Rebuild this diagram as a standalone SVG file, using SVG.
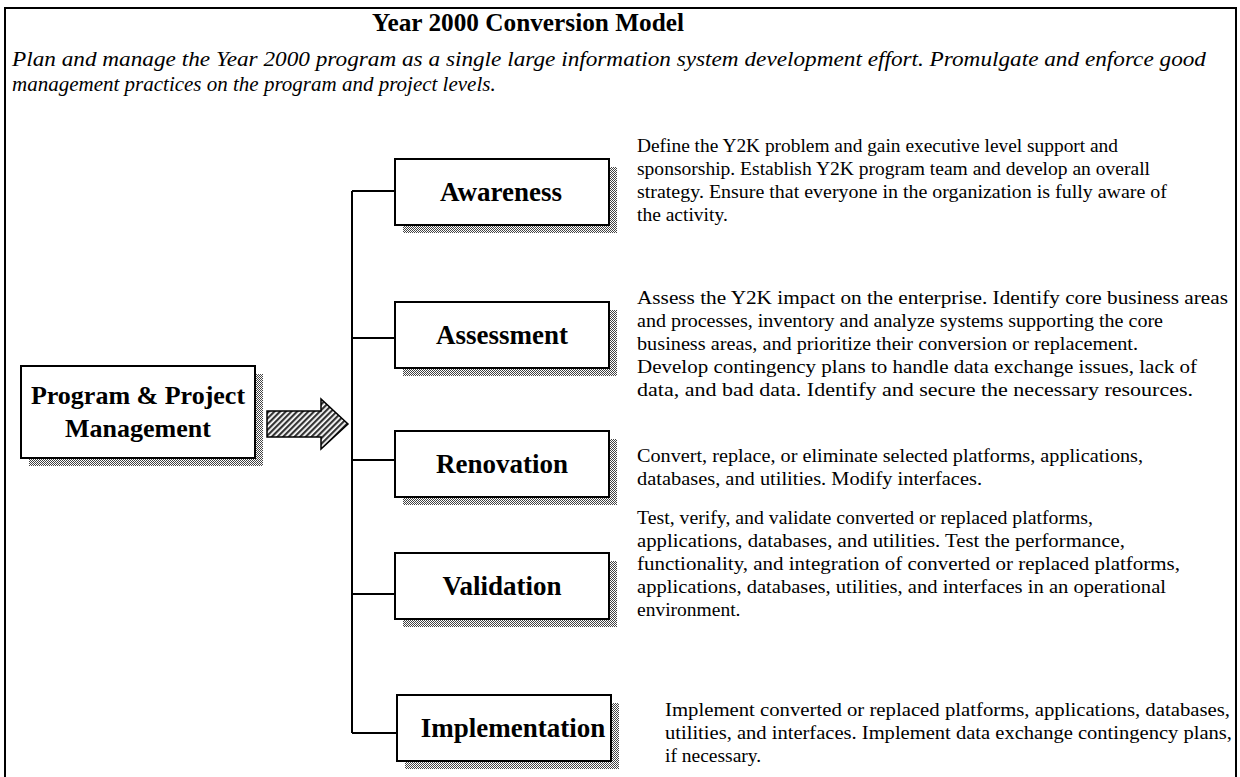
<svg xmlns="http://www.w3.org/2000/svg" width="1240" height="777" viewBox="0 0 1240 777">
<defs>
<pattern id="dots" width="2" height="2" patternUnits="userSpaceOnUse"><rect width="2" height="2" fill="#fff"/><rect width="1" height="1" fill="#444"/><rect x="1" y="1" width="1" height="1" fill="#444"/></pattern>
<pattern id="hatch" width="4" height="4" patternUnits="userSpaceOnUse" patternTransform="rotate(45)"><rect width="4" height="4" fill="#fff"/><rect width="2.2" height="4" fill="#333"/></pattern>
</defs>
<style>
.frame{stroke:#000;stroke-width:2;fill:none}
.box{fill:#fff;stroke:#000;stroke-width:2}
.shadow{fill:url(#dots)}
.conn{stroke:#000;stroke-width:2;fill:none}
.title{font-family:"Liberation Serif","Times New Roman",serif;font-weight:bold;font-size:25px;fill:#000}
.sub{font-family:"Liberation Serif","Times New Roman",serif;font-style:italic;font-size:21px;fill:#000}
.lbl{font-family:"Liberation Serif","Times New Roman",serif;font-weight:bold;font-size:27px;fill:#000;text-anchor:middle}
.ppm{font-size:26px}
.desc{font-family:"Liberation Serif","Times New Roman",serif;font-size:19.5px;fill:#000}
</style>
<rect width="1240" height="777" fill="#fff"/>
<path class="frame" d="M5,777 V8 H1236 V777"/>
<text class="title" x="372" y="31" textLength="312" lengthAdjust="spacingAndGlyphs">Year 2000 Conversion Model</text>
<text class="sub" x="12" y="66" textLength="1194" lengthAdjust="spacingAndGlyphs">Plan and manage the Year 2000 program as a single large information system development effort. Promulgate and enforce good</text>
<text class="sub" x="12" y="91">management practices on the program and project levels.</text>

<g id="connectors">
<path class="conn" d="M352,191 V733"/>
<path class="conn" d="M352,191 H395"/>
<path class="conn" d="M352,338 H395"/>
<path class="conn" d="M352,460 H395"/>
<path class="conn" d="M352,594 H395"/>
<path class="conn" d="M352,733 H397"/>
<path d="M267,411 H321 V399 L348,424 L321,449 V437 H267 Z" fill="url(#hatch)" stroke="#000" stroke-width="1.5"/>
</g>

<g id="ppm">
<rect class="shadow" x="255" y="374" width="8" height="92"/>
<rect class="shadow" x="29" y="458" width="234" height="8"/>
<rect class="box" x="21" y="366" width="234" height="92"/>
<text class="lbl ppm" x="138" y="404">Program &amp; Project</text>
<text class="lbl ppm" x="138" y="437">Management</text>
</g>

<g id="awareness">
<rect class="shadow" x="609" y="167" width="8" height="66"/>
<rect class="shadow" x="403" y="225" width="214" height="8"/>
<rect class="box" x="395" y="159" width="214" height="66"/>
<text class="lbl" x="501" y="201">Awareness</text>
<text class="desc" x="637" y="152" textLength="481" lengthAdjust="spacingAndGlyphs">Define the Y2K problem and gain executive level support and</text>
<text class="desc" x="637" y="175" textLength="513" lengthAdjust="spacingAndGlyphs">sponsorship. Establish Y2K program team and develop an overall</text>
<text class="desc" x="637" y="198" textLength="530" lengthAdjust="spacingAndGlyphs">strategy. Ensure that everyone in the organization is fully aware of</text>
<text class="desc" x="637" y="221">the activity.</text>
</g>

<g id="assessment">
<rect class="shadow" x="609" y="310" width="8" height="66"/>
<rect class="shadow" x="403" y="368" width="214" height="8"/>
<rect class="box" x="395" y="302" width="214" height="66"/>
<text class="lbl" x="502" y="344">Assessment</text>
<text class="desc" x="637" y="304" textLength="591" lengthAdjust="spacingAndGlyphs">Assess the Y2K impact on the enterprise. Identify core business areas</text>
<text class="desc" x="637" y="327" textLength="526" lengthAdjust="spacingAndGlyphs">and processes, inventory and analyze systems supporting the core</text>
<text class="desc" x="637" y="350" textLength="501" lengthAdjust="spacingAndGlyphs">business areas, and prioritize their conversion or replacement.</text>
<text class="desc" x="637" y="373" textLength="560" lengthAdjust="spacingAndGlyphs">Develop contingency plans to handle data exchange issues, lack of</text>
<text class="desc" x="637" y="396" textLength="556" lengthAdjust="spacingAndGlyphs">data, and bad data. Identify and secure the necessary resources.</text>
</g>

<g id="renovation">
<rect class="shadow" x="609" y="439" width="8" height="66"/>
<rect class="shadow" x="403" y="497" width="214" height="8"/>
<rect class="box" x="395" y="431" width="214" height="66"/>
<text class="lbl" x="502" y="473">Renovation</text>
<text class="desc" x="637" y="462" textLength="506" lengthAdjust="spacingAndGlyphs">Convert, replace, or eliminate selected platforms, applications,</text>
<text class="desc" x="637" y="485" textLength="345" lengthAdjust="spacingAndGlyphs">databases, and utilities. Modify interfaces.</text>
</g>

<g id="validation">
<rect class="shadow" x="609" y="561" width="8" height="66"/>
<rect class="shadow" x="403" y="619" width="214" height="8"/>
<rect class="box" x="395" y="553" width="214" height="66"/>
<text class="lbl" x="502" y="595">Validation</text>
<text class="desc" x="637" y="524" textLength="456" lengthAdjust="spacingAndGlyphs">Test, verify, and validate converted or replaced platforms,</text>
<text class="desc" x="637" y="547" textLength="488" lengthAdjust="spacingAndGlyphs">applications, databases, and utilities. Test the performance,</text>
<text class="desc" x="637" y="570" textLength="543" lengthAdjust="spacingAndGlyphs">functionality, and integration of converted or replaced platforms,</text>
<text class="desc" x="637" y="593" textLength="529" lengthAdjust="spacingAndGlyphs">applications, databases, utilities, and interfaces in an operational</text>
<text class="desc" x="637" y="616">environment.</text>
</g>

<g id="implementation">
<rect class="shadow" x="611" y="703" width="8" height="66"/>
<rect class="shadow" x="405" y="761" width="214" height="8"/>
<rect class="box" x="397" y="695" width="214" height="66"/>
<text class="lbl" x="513" y="737">Implementation</text>
<text class="desc" x="665" y="716" textLength="565" lengthAdjust="spacingAndGlyphs">Implement converted or replaced platforms, applications, databases,</text>
<text class="desc" x="665" y="739" textLength="567" lengthAdjust="spacingAndGlyphs">utilities, and interfaces. Implement data exchange contingency plans,</text>
<text class="desc" x="665" y="762">if necessary.</text>
</g>
</svg>
